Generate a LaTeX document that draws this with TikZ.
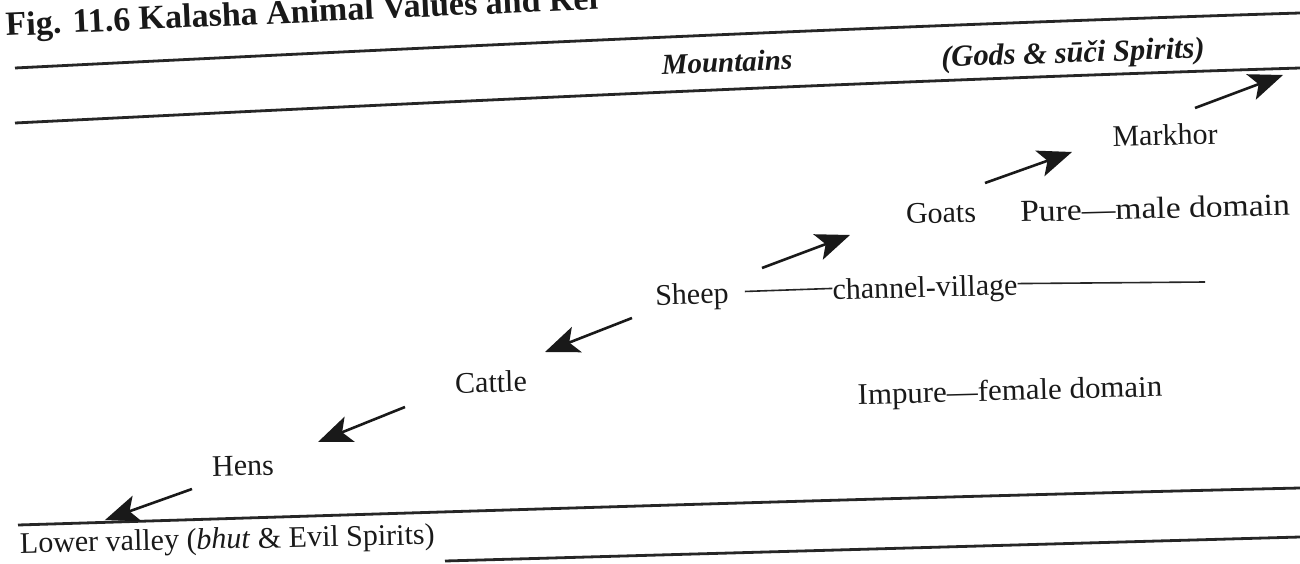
\documentclass[tikz,border=0pt]{standalone}
\usepackage{fontspec}
\setmainfont{Liberation Serif}
\usetikzlibrary{arrows.meta}
\begin{document}
\begin{tikzpicture}[x=1pt,y=-1pt,
  lab/.style={font=\fontsize{30}{36}\selectfont, inner sep=0pt, rotate=1.5, text=black!90},
  hdr/.style={font=\fontsize{29}{34}\selectfont\bfseries\itshape, inner sep=0pt, rotate=2, text=black!90},
  band/.style={line width=2.8pt, black!85},
  rule/.style={line width=1.6pt, black!85},
  arr/.style={line width=2.6pt, black!90, -{Stealth[length=34pt,width=27pt,inset=8pt]}}
]
\useasboundingbox (0,0) rectangle (1300,564);
\clip (0,0) rectangle (1300,564);
\fill[white] (0,0) rectangle (1300,564);

% title (cut by the top edge, as in the scan)
\node[anchor=base west, font=\fontsize{34}{40}\selectfont\bfseries, inner sep=0pt, rotate=2.6, text=black!90] (title) at (6,36) {Fig. 11.6 Kalasha Animal Values and Rel};

% bands
\draw[band] (15,68) .. controls (443,46.6) and (872,26.3) .. (1300,13);
\draw[band] (15,123) .. controls (443,101.6) and (872,81.3) .. (1300,68);
\draw[band] (18,525) .. controls (447,512) and (873,498) .. (1300,488);
\draw[band] (445,561) .. controls (730,553) and (1015,545) .. (1300,537);

% band labels
\node[hdr] (mount) at (727,62) {Mountains};
\node[hdr, font=\fontsize{30.5}{35}\selectfont\bfseries\itshape] (gods) at (1073,55) {(Gods \& sūči Spirits)};
\node[lab, anchor=base west, rotate=-0.3] (lower) at (20,553) {Lower valley (\textit{bhut} \& Evil Spirits)};

% animals and domains
\node[lab] (markhor) at (1165,135) {Markhor};
\node[lab] (goats) at (941,213) {Goats};
\node[lab] (pure) at (1155,208) {\scalebox{1.12}[1.02]{Pure---male domain}};
\node[lab] (sheep) at (692,297) {Sheep};
\node[lab] (chv) at (925,290) {channel-village};
\node[lab] (cattle) at (491,382) {Cattle};
\node[lab] (impure) at (1010,393) {\scalebox{1.03}[1]{Impure---female domain}};
\node[lab] (hens) at (243,466) {Hens};

% channel-village rule
\coordinate (chend) at (1205,282);
\draw[rule, shorten <=16pt] ([yshift=4pt]sheep.east) -- ([yshift=4pt]chv.west);
\draw[rule] ([yshift=4pt]chv.east) -- (chend);

% arrows
\coordinate (a1s) at (1195,108); \coordinate (a1e) at (1283,75);
\coordinate (a2s) at (985,183);  \coordinate (a2e) at (1072,152);
\coordinate (a3s) at (762,268);  \coordinate (a3e) at (850,235);
\coordinate (a4s) at (632,318);  \coordinate (a4e) at (545,352);
\coordinate (a5s) at (405,407);  \coordinate (a5e) at (318,442);
\coordinate (a6s) at (192,489);  \coordinate (a6e) at (105,520);
\draw[arr] (a1s) -- (a1e);
\draw[arr] (a2s) -- (a2e);
\draw[arr] (a3s) -- (a3e);
\draw[arr] (a4s) -- (a4e);
\draw[arr] (a5s) -- (a5e);
\draw[arr] (a6s) -- (a6e);
\end{tikzpicture}
\end{document}
